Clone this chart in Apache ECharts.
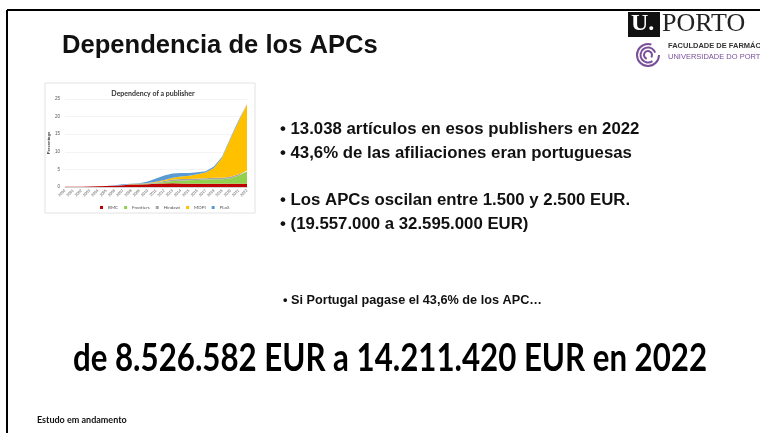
<!DOCTYPE html>
<html><head><meta charset="utf-8">
<script src="https://cdn.jsdelivr.net/npm/echarts@6/dist/echarts.min.js"></script>
<style>html,body{margin:0;padding:0;background:#fff}#c{width:760px;height:433px}</style>
</head><body><div id="c"></div>
<script>
const years = ['2000','2001','2002','2003','2004','2005','2006','2007','2008','2009','2010','2011','2012','2013','2014','2015','2016','2017','2018','2019','2020','2021','2022'];
const bmc       = [0.05,0.1,0.1,0.15,0.2,0.25,0.35,0.5,0.7,0.7,0.8,0.9,1.0,1.1,1.0,0.9,0.9,0.9,0.9,0.9,0.9,0.9,0.9];
const frontiers = [0,0,0,0,0,0,0,0,0,0.05,0.1,0.2,0.4,0.6,0.8,1.0,1.1,1.2,1.3,1.3,1.6,2.4,3.5];
const hindawi   = [0,0,0,0,0,0,0.05,0.05,0.1,0.1,0.15,0.2,0.3,0.4,0.5,0.4,0.4,0.4,0.4,0.4,0.4,0.3,0.3];
const mdpi      = [0,0,0,0,0,0,0,0,0.02,0.05,0.1,0.2,0.3,0.5,0.7,0.9,1.2,1.6,2.8,5.8,10.8,15.1,18.8];
const plos      = [0,0,0,0,0,0.05,0.1,0.2,0.1,0.2,0.4,0.9,1.3,1.2,1.0,0.8,0.6,0.4,0.4,0.3,0.3,0.3,0.2];
const seriesNames = ['BMC','Frontiers','Hindawi','MDPI','PLoS'];
const seriesColors = ['#C00000','#92D050','#A5A5A5','#FFC000','#5B9BD5'];
const yTicks = [0,5,10,15,20,25];

const sans = '"Liberation Sans", Arial, sans-serif';
const cal = 'Lato, "Open Sans", sans-serif';

const bullets = [
  {t:'• 13.038 artículos en esos publishers en 2022', y:131},
  {t:'• 43,6% de las afiliaciones eran portuguesas', y:155},
  {t:'• Los APCs oscilan entre 1.500 y 2.500 EUR.', y:202},
  {t:'• (19.557.000 a 32.595.000 EUR)', y:226}
];

const chart = echarts.init(document.getElementById('c'), null, {renderer:'canvas'});
const vals = [bmc, frontiers, hindawi, mdpi, plos];

const graphic = [
  {type:'line', shape:{x1:7,y1:10,x2:760,y2:10}, style:{stroke:'#000',lineWidth:2}, z:10},
  {type:'line', shape:{x1:7,y1:10,x2:7,y2:433}, style:{stroke:'#000',lineWidth:2}, z:10},
  {type:'rect', shape:{x:45,y:83,width:210,height:130}, style:{fill:'#fff',stroke:'#e2e2e2',lineWidth:1}, z:-10},
  {type:'text', left:62, top:33, style:{text:'Dependencia de los APCs', font:'bold 25.6px '+sans, fill:'#111'}},
  {type:'text', left:37, top:416, style:{text:'Estudo em andamento', font:'bold 9px '+cal, fill:'#111'}},
  {type:'text', left:283, top:294, style:{text:'• Si Portugal pagase el 43,6% de los APC…', font:'bold 12.7px '+sans, fill:'#111'}},
  {type:'text', x:73, y:340, scaleX:0.822, style:{text:'de 8.526.582 EUR a 14.211.420 EUR en 2022', font:'bold 38px '+cal, fill:'#000'}},
  // logo
  {type:'rect', shape:{x:628,y:12,width:32,height:25}, style:{fill:'#111'}},
  {type:'text', left:631, top:12, style:{text:'U.', font:'bold 24px "Liberation Serif", serif', fill:'#fff'}},
  {type:'text', left:662, top:11, style:{text:'PORTO', font:'26px "Liberation Serif", serif', fill:'#222'}},
  {type:'text', left:668, top:42, style:{text:'FACULDADE DE FARMÁCIA', font:'bold 7.5px '+sans, fill:'#333'}},
  {type:'text', left:668, top:53, style:{text:'UNIVERSIDADE DO PORTO', font:'7.5px '+sans, fill:'#7a4f9a'}},
  {type:'arc', shape:{cx:648,cy:55,r:11,startAngle:0,endAngle:Math.PI*1.6}, style:{stroke:'#7a4f9a',lineWidth:2,fill:null}},
  {type:'arc', shape:{cx:648,cy:55,r:7.5,startAngle:Math.PI*0.3,endAngle:Math.PI*1.9}, style:{stroke:'#7a4f9a',lineWidth:2,fill:null}},
  {type:'arc', shape:{cx:648,cy:55,r:4,startAngle:Math.PI*0.6,endAngle:Math.PI*2.2}, style:{stroke:'#7a4f9a',lineWidth:2,fill:null}}
];
bullets.forEach(b => graphic.push({type:'text', left:280, top:b.y-10, style:{text:b.t, font:'bold 16.8px '+sans, fill:'#111'}}));

chart.setOption({
  animation:false,
  backgroundColor:'#fff',
  title:{text:'Dependency of a publisher', left:148, top:85, textAlign:'center',
    textStyle:{fontSize:7, fontWeight:'bold', color:'#333', fontFamily:cal}},
  legend:{data:seriesNames, left:95, top:200, itemWidth:3, itemHeight:3, itemGap:6, icon:'rect',
    textStyle:{fontSize:4.5, color:'#555', fontFamily:cal}},
  grid:{left:65, top:99, width:182, height:88, containLabel:false},
  xAxis:{type:'category', data:years, boundaryGap:false,
    axisLine:{lineStyle:{color:'#d0d0d0'}}, axisTick:{show:false},
    axisLabel:{rotate:45, fontSize:3.8, color:'#555', interval:0, margin:3}},
  yAxis:{type:'value', min:0, max:25, interval:5, name:'Percentage', nameLocation:'middle', nameGap:11,
    nameTextStyle:{fontSize:4.2, color:'#444', fontWeight:'bold'},
    axisLine:{show:false}, axisTick:{show:false},
    axisLabel:{fontSize:4.5, color:'#555', margin:5},
    splitLine:{lineStyle:{color:'#ececec', width:0.6}}},
  series: seriesNames.map((n,i)=>({name:n, type:'line', stack:'total', data:vals[i], symbol:'none',
    lineStyle:{width:0}, areaStyle:{color:seriesColors[i], opacity:1}, itemStyle:{color:seriesColors[i]}})),
  graphic: graphic
});
</script></body></html>
